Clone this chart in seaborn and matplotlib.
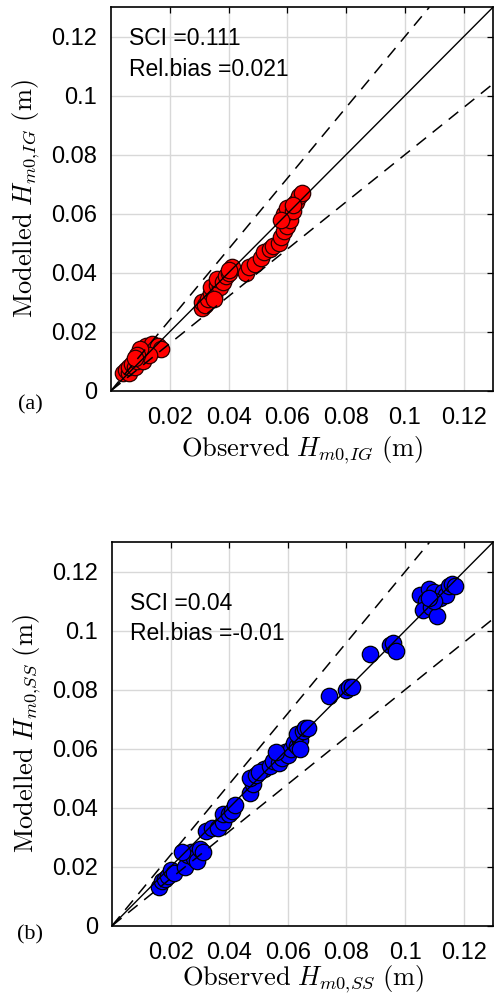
import seaborn as sns
import matplotlib.pyplot as plt
import pandas as pd

# infragravity (a)
obs_ig = [0.004, 0.005, 0.006, 0.006, 0.007, 0.008, 0.009, 0.010, 0.011, 0.011,
          0.012, 0.013, 0.014, 0.015, 0.016, 0.017, 0.013, 0.010, 0.009, 0.008,
          0.031, 0.031, 0.032, 0.033, 0.034, 0.035, 0.034, 0.036, 0.037, 0.036,
          0.038, 0.039, 0.040, 0.041, 0.040, 0.035,
          0.046, 0.047, 0.049, 0.051, 0.052, 0.054, 0.055, 0.057, 0.058, 0.059,
          0.060, 0.061, 0.059, 0.060, 0.062, 0.063, 0.064, 0.065, 0.062, 0.058]
mod_ig = [0.006, 0.007, 0.006, 0.008, 0.009, 0.008, 0.010, 0.011, 0.010, 0.013,
          0.015, 0.014, 0.016, 0.014, 0.015, 0.014, 0.012, 0.014, 0.012, 0.011,
          0.028, 0.030, 0.029, 0.031, 0.033, 0.032, 0.035, 0.036, 0.035, 0.038,
          0.037, 0.039, 0.040, 0.042, 0.041, 0.031,
          0.040, 0.042, 0.043, 0.045, 0.047, 0.048, 0.049, 0.050, 0.052, 0.054,
          0.056, 0.058, 0.060, 0.062, 0.061, 0.064, 0.066, 0.067, 0.063, 0.058]

# sea-swell (b)
obs_ss = [0.016, 0.017, 0.018, 0.019, 0.020, 0.021, 0.025, 0.026, 0.027, 0.028,
          0.029, 0.030, 0.031, 0.024, 0.032, 0.034, 0.036, 0.038, 0.038, 0.040,
          0.041, 0.042, 0.047, 0.048, 0.047, 0.049, 0.052, 0.050, 0.054, 0.055,
          0.057, 0.058, 0.059, 0.060, 0.061, 0.062, 0.063, 0.064, 0.063, 0.065,
          0.066, 0.067, 0.064, 0.056, 0.074, 0.080, 0.081, 0.082, 0.088, 0.095,
          0.096, 0.097, 0.105, 0.107, 0.108, 0.106, 0.109, 0.110, 0.111, 0.112,
          0.113, 0.114, 0.115, 0.116, 0.117, 0.110, 0.108]
mod_ss = [0.013, 0.015, 0.016, 0.017, 0.019, 0.018, 0.020, 0.024, 0.025, 0.023,
          0.022, 0.026, 0.025, 0.025, 0.032, 0.033, 0.033, 0.035, 0.038, 0.038,
          0.039, 0.041, 0.045, 0.048, 0.050, 0.051, 0.053, 0.052, 0.054, 0.056,
          0.055, 0.057, 0.059, 0.058, 0.060, 0.062, 0.061, 0.063, 0.065, 0.066,
          0.067, 0.067, 0.060, 0.059, 0.078, 0.080, 0.081, 0.081, 0.092, 0.095,
          0.096, 0.093, 0.112, 0.110, 0.114, 0.107, 0.108, 0.113, 0.105, 0.111,
          0.113, 0.112, 0.115, 0.116, 0.115, 0.110, 0.111]

xtick_vals = [0.02, 0.04, 0.06, 0.08, 0.10, 0.12]
xtick_lbls = ['0.02', '0.04', '0.06', '0.08', '0.1', '0.12']
ytick_vals = [0, 0.02, 0.04, 0.06, 0.08, 0.10, 0.12]
ytick_lbls = ['0', '0.02', '0.04', '0.06', '0.08', '0.1', '0.12']
ratios = [1.0, 1.2, 0.8]
lim = 0.13

sns.set_style("white")
plt.rcParams['font.family'] = ['Liberation Sans', 'DejaVu Sans']
plt.rcParams['mathtext.fontset'] = 'cm'
plt.rcParams['text.color'] = 'black'
plt.rcParams['axes.labelcolor'] = 'black'

fig = plt.figure(figsize=(5.01, 9.98), dpi=100)
ax1 = fig.add_axes([0.2216, 0.6085, 0.7625, 0.3843])
ax2 = fig.add_axes([0.2236, 0.0724, 0.7605, 0.3843])

panels = [
    (ax1, obs_ig, mod_ig, '#ff0000', '#2a0000', 'IG', ['SCI =0.111', 'Rel.bias =0.021'], [0.901, 0.8205], '(a)', 0.594, -0.114),
    (ax2, obs_ss, mod_ss, '#0000ff', 'black', 'SS', ['SCI =0.04', 'Rel.bias =-0.01'], [0.823, 0.745], '(b)', 0.063, -0.1),
]

for ax, ox, my, fc, ec, tag, txt, ty, plab, py, ly in panels:
    df = pd.DataFrame({'obs': ox, 'mod': my})
    sns.scatterplot(data=df, x='obs', y='mod', ax=ax, color=fc, edgecolor=ec,
                    linewidth=0.9, s=140, zorder=3, legend=False)
    for r in ratios:
        if r == 1.0:
            ax.axline((0, 0), slope=r, color='black', lw=1.0, zorder=4)
        else:
            ax.axline((0, 0), slope=r, color='black', lw=1.1, ls=(0, (8, 5.5)), zorder=4)
    ax.set_xlim(0, lim)
    ax.set_ylim(0, lim)
    ax.set_xticks(xtick_vals)
    ax.set_xticklabels(xtick_lbls)
    ax.set_yticks(ytick_vals)
    ax.set_yticklabels(ytick_lbls)
    ax.grid(True, color='#d8d8d8', lw=1.0, zorder=0)
    ax.set_axisbelow(True)
    ax.tick_params(direction='in', length=4, width=0.9, top=True, right=True,
                   labelsize=17, colors='black')
    ax.tick_params(axis='x', pad=12)
    ax.tick_params(axis='y', pad=10)
    for sp in ax.spines.values():
        sp.set_color('black')
        sp.set_linewidth(1.2)
    ax.set_xlabel(r'$\mathrm{Observed}\ H_{m0{,}%s}\ \mathrm{(m)}$' % tag, fontsize=19)
    ax.set_ylabel(r'$\mathrm{Modelled}\ H_{m0{,}%s}\ \mathrm{(m)}$' % tag, fontsize=19)
    ax.xaxis.set_label_coords(0.5, ly)
    ax.yaxis.set_label_coords(-0.18, 0.5)
    for t, yy in zip(txt, ty):
        ax.text(0.047, yy, t, transform=ax.transAxes, fontsize=16.5,
                va='baseline', ha='left', color='black')
    fig.text(0.06, py, plab, family='Liberation Serif', fontsize=16,
             ha='center', va='center')

fig.savefig('out.png', dpi=100)
